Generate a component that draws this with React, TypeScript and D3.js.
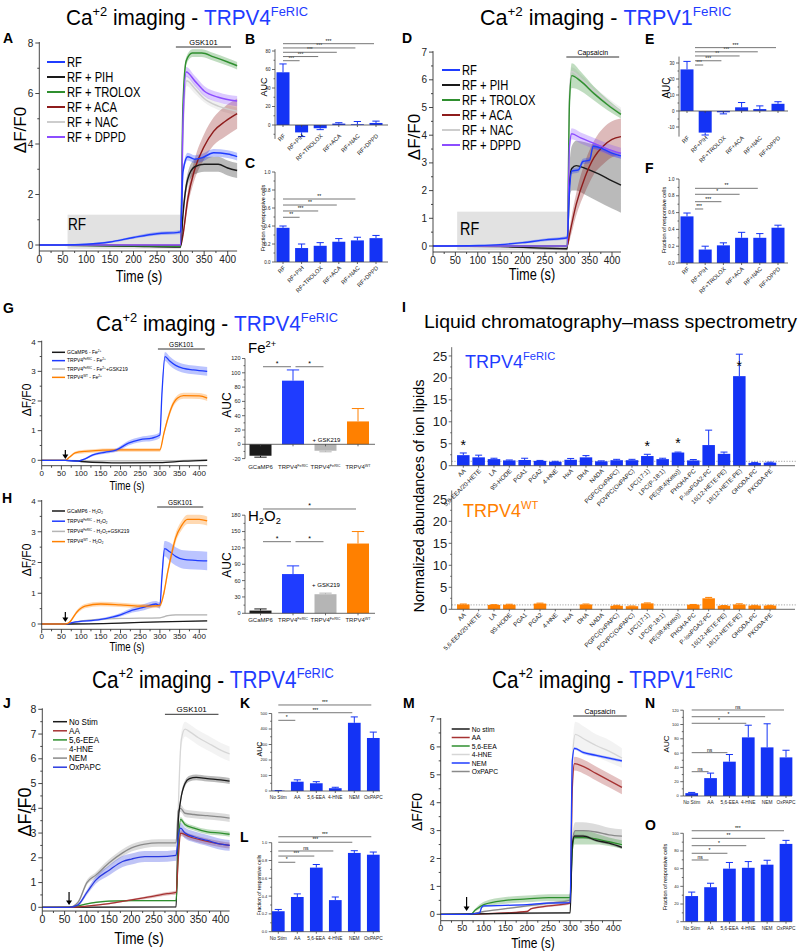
import * as d3 from 'd3';

// ── fonts & colours ─────────────────────────────────────────────────────────
const FONT = "'Liberation Sans',Arial,sans-serif";
const SANS = "'Liberation Sans',Arial,sans-serif";
const NARROW = 0.8; // the original uses a condensed Helvetica

const BLUE = '#1f3cff';
const BAR = '#1433f5';
const GREEN = '#2f8f2f';
const DKRED = '#8e1c1c';
const RED = '#a63232';
const LGRAY = '#cdcdcd';
const GRAY = '#8a8a8a';
const PURPLE = '#8c4dff';
const ORANGE = '#ff8000';
const BLACK = '#1a1a1a';

type Pt = [number, number, number]; // time (s), mean ΔF/F0, sem

// ── A: TRPV4 FeRIC, RF + inhibitors ─────────────────────────────────────────
const A_RF: Pt[] = [[0, 0, 0.02], [50, 0, 0.02], [100, 0.03, 0.03], [150, 0.12, 0.04], [200, 0.3, 0.05], [250, 0.45, 0.06], [295, 0.5, 0.07], [300, 0.52, 0.08], [305, 2.9, 0.15], [315, 3.5, 0.15], [330, 3.4, 0.15], [345, 3.45, 0.15], [370, 3.65, 0.15], [400, 3.6, 0.15], [420, 3.5, 0.15]];
const A_PIH: Pt[] = [[0, 0, 0.01], [100, -0.02, 0.01], [200, -0.05, 0.02], [300, -0.08, 0.02], [305, 1.2, 0.2], [315, 2.6, 0.25], [330, 3.1, 0.3], [350, 3.2, 0.3], [380, 3.2, 0.3], [400, 3.05, 0.3], [420, 2.95, 0.3]];
const A_TROLOX: Pt[] = [[0, 0, 0.01], [300, -0.05, 0.02], [305, 5.5, 0.15], [312, 7.3, 0.15], [325, 7.6, 0.15], [345, 7.6, 0.15], [370, 7.45, 0.15], [400, 7.25, 0.15], [420, 7.1, 0.15]];
const A_ACA: Pt[] = [[0, 0, 0.01], [300, -0.02, 0.02], [305, 0.4, 0.1], [315, 1.8, 0.3], [330, 3.0, 0.4], [350, 3.9, 0.5], [370, 4.5, 0.55], [395, 4.9, 0.6], [420, 5.2, 0.6]];
const A_NAC: Pt[] = [[0, 0, 0.01], [300, 0, 0.02], [305, 4.5, 0.15], [313, 6.5, 0.2], [330, 6.2, 0.2], [350, 5.8, 0.15], [380, 5.5, 0.15], [420, 5.3, 0.15]];
const A_DPPD: Pt[] = [[0, 0, 0.01], [300, 0, 0.02], [305, 4.8, 0.2], [312, 6.85, 0.2], [330, 6.5, 0.2], [350, 6.1, 0.2], [380, 5.85, 0.2], [420, 5.7, 0.2]];

// ── D: TRPV1 FeRIC ─────────────────────────────────────────────────────────
const D_RF: Pt[] = [[0, 0, 0.02], [100, 0.02, 0.02], [150, 0.05, 0.03], [200, 0.12, 0.04], [250, 0.22, 0.05], [300, 0.3, 0.06], [305, 2.0, 0.1], [310, 2.7, 0.1], [325, 2.75, 0.1], [335, 3.05, 0.1], [350, 3.1, 0.1], [358, 3.6, 0.1], [380, 3.5, 0.1], [400, 3.35, 0.1], [420, 3.25, 0.1]];
const D_PIH: Pt[] = [[0, 0, 0.01], [150, -0.02, 0.02], [300, -0.1, 0.05], [305, 2.3, 0.6], [310, 2.8, 0.8], [320, 2.9, 0.9], [340, 2.8, 0.95], [370, 2.6, 1.0], [400, 2.35, 1.0], [420, 2.2, 1.0]];
const D_TROLOX: Pt[] = [[0, 0, 0.01], [300, 0, 0.02], [305, 5.2, 0.3], [310, 6.15, 0.45], [330, 5.95, 0.35], [360, 5.5, 0.25], [390, 5.1, 0.2], [420, 4.75, 0.15]];
const D_ACA: Pt[] = [[0, 0, 0.01], [300, 0, 0.02], [305, 0.4, 0.2], [320, 1.5, 0.4], [340, 2.5, 0.55], [360, 3.2, 0.6], [380, 3.6, 0.65], [400, 3.85, 0.65], [420, 3.95, 0.65]];
const D_NAC: Pt[] = [[0, 0, 0.01], [300, 0, 0.02], [305, 5.5, 0.15], [310, 6.3, 0.15], [330, 6.05, 0.15], [360, 5.6, 0.15], [390, 5.2, 0.15], [420, 4.85, 0.15]];
const D_DPPD: Pt[] = [[0, 0, 0.01], [300, 0, 0.02], [305, 3.6, 0.2], [310, 4.05, 0.2], [330, 3.9, 0.2], [360, 3.7, 0.2], [390, 3.5, 0.2], [420, 3.35, 0.2]];

const rfNames = ['RF', 'RF + PIH', 'RF + TROLOX', 'RF + ACA', 'RF + NAC', 'RF + DPPD'];
const rfCats = ['RF', 'RF+PIH', 'RF+TROLOX', 'RF+ACA', 'RF+NAC', 'RF+DPPD'];

// ── B/C/E/F bars ───────────────────────────────────────────────────────────
const B_auc = [57, -8, -3.5, 1.5, 0.8, 2.2];
const B_err = [9, 4.5, 1.5, 1, 3, 2];
const C_frac = [0.38, 0.155, 0.18, 0.225, 0.24, 0.265];
const C_err = [0.02, 0.045, 0.035, 0.035, 0.035, 0.03];
const E_auc = [26, -13.5, -0.8, 2.3, 1.2, 4.5];
const E_err = [5, 1.5, 1, 3, 2, 1.3];
const F_frac = [0.555, 0.16, 0.21, 0.3, 0.3, 0.42];
const F_err = [0.04, 0.04, 0.03, 0.065, 0.05, 0.03];
// [from, to, label, bracket level]
const B_sig: [number, number, string, number][] = [[0, 1, '***', 69.5], [0, 2, '***', 74], [0, 3, '***', 78.6], [0, 4, '***', 83.3], [0, 5, '***', 87.9]];
const C_sig: [number, number, string, number][] = [[0, 1, '**', 0.497], [0, 2, '***', 0.567], [0, 3, '**', 0.633], [0, 4, '**', 0.7]];
const E_sig: [number, number, string, number][] = [[0, 1, '***', 28.75], [0, 2, '***', 31.4], [0, 3, '**', 34.4], [0, 4, '***', 37], [0, 5, '***', 39.6]];
const F_sig: [number, number, string, number][] = [[0, 1, '***', 0.643], [0, 2, '***', 0.73], [0, 3, '*', 0.818], [0, 4, '**', 0.889]];

// ── G/H: Fe2+ and H2O2 ─────────────────────────────────────────────────────
const G_GCaMP: Pt[] = [[0, 0, 0.005], [60, 0, 0.01], [100, -0.04, 0.01], [200, -0.09, 0.01], [300, -0.08, 0.01], [360, -0.03, 0.01], [420, 0, 0.01]];
const G_FeRIC: Pt[] = [[0, 0, 0.01], [60, 0, 0.01], [90, -0.03, 0.02], [110, 0.05, 0.03], [130, 0.18, 0.04], [160, 0.27, 0.05], [190, 0.35, 0.06], [220, 0.58, 0.08], [250, 0.7, 0.09], [280, 0.75, 0.1], [300, 0.85, 0.1], [305, 2.2, 0.12], [313, 3.5, 0.15], [325, 3.35, 0.15], [340, 3.2, 0.15], [360, 3.1, 0.15], [385, 3.05, 0.15], [420, 3.0, 0.15]];
const G_GSK: Pt[] = [[0, 0, 0.005], [60, 0, 0.01], [150, -0.02, 0.01], [300, -0.02, 0.01], [420, 0.02, 0.01]];
const G_WT: Pt[] = [[0, 0, 0.01], [60, 0, 0.01], [70, 0.1, 0.03], [85, 0.25, 0.05], [110, 0.3, 0.06], [200, 0.35, 0.06], [300, 0.35, 0.06], [310, 0.9, 0.08], [320, 1.4, 0.1], [330, 1.8, 0.1], [345, 2.1, 0.1], [360, 2.18, 0.1], [400, 2.17, 0.1], [420, 2.1, 0.1]];
const H_GCaMP: Pt[] = [[0, 0, 0.005], [60, 0, 0.01], [200, 0.03, 0.01], [300, 0.07, 0.01], [420, 0.1, 0.01]];
const H_FeRIC: Pt[] = [[0, 0, 0.01], [60, 0, 0.01], [80, 0.05, 0.02], [150, 0.15, 0.04], [200, 0.3, 0.06], [230, 0.45, 0.08], [260, 0.55, 0.1], [290, 0.65, 0.1], [300, 0.6, 0.1], [305, 1.5, 0.2], [312, 2.45, 0.25], [325, 2.35, 0.3], [340, 2.2, 0.3], [360, 2.1, 0.3], [390, 2.07, 0.3], [420, 2.05, 0.3]];
const H_GSK: Pt[] = [[0, 0, 0.005], [60, 0, 0.01], [100, 0.1, 0.01], [200, 0.18, 0.01], [300, 0.2, 0.01], [320, 0.27, 0.02], [340, 0.3, 0.02], [420, 0.3, 0.02]];
const H_WT: Pt[] = [[0, 0, 0.01], [60, 0, 0.01], [70, 0.05, 0.03], [90, 0.4, 0.06], [110, 0.58, 0.07], [150, 0.65, 0.07], [200, 0.62, 0.07], [250, 0.58, 0.07], [300, 0.6, 0.07], [310, 1.0, 0.1], [320, 1.7, 0.12], [330, 2.3, 0.15], [340, 2.8, 0.15], [355, 3.2, 0.15], [370, 3.4, 0.15], [400, 3.4, 0.15], [420, 3.35, 0.15]];

const G_names = ['GCaMP6 - Fe^{2+}', 'TRPV4^{FeRIC} - Fe^{2+}', 'TRPV4^{FeRIC} - Fe^{2+}+GSK219', 'TRPV4^{WT} - Fe^{2+}'];
const H_names = ['GCaMP6 - H_{2}O_{2}', 'TRPV4^{FeRIC} - H_{2}O_{2}', 'TRPV4^{FeRIC} - H_{2}O_{2}+GSK219', 'TRPV4^{WT} - H_{2}O_{2}'];
const ghCats = ['GCaMP6', 'TRPV4^{FeRIC}', 'TRPV4^{FeRIC}', 'TRPV4^{WT}'];
const G_auc = [-16, 89, -9, 32];
const G_err = [2, 15, 1.5, 18];
const H_auc = [5, 72, 35, 128];
const H_err = [3, 15, 2, 22];
const G_sig: [number, number, string, number][] = [[0, 1, '*', 108.5], [1, 2, '*', 108.5]];
const H_sig: [number, number, string, number][] = [[0, 1, '*', 131.4], [1, 2, '*', 131.4], [0, 3, '*', 191.4]];

// ── I: LC-MS lipids ────────────────────────────────────────────────────────
const lipids = ['AA', '5,6-EEA/20-HETE', 'LA', '9S-HODE', 'PGA1', 'PGA2', '4-HNE', 'HxA', 'DHA', 'NADA', 'PGPC(OxPAPC)', 'POVPC(OxPAPC)', 'LPC(17:1)', 'LPC(P-18:1)', 'PE(38:4(Keto))', 'PHOHA-PC', 'P-IsoPGA2-PC', '16(12-HETE-PE)', '18(12-HETE-PE)', 'OHODA-PC', 'PKODA-PE'];
const I_feric = [2.4, 1.9, 1.5, 1.2, 1.3, 1.1, 0.9, 1.35, 1.9, 1.0, 1.25, 1.25, 2.2, 1.5, 3.0, 1.2, 4.7, 2.7, 20.4, 0.65, 0.7];
const I_fericErr = [0.5, 0.5, 0.2, 0.1, 0.4, 0.1, 0.1, 0.3, 0.4, 0.1, 0.2, 0.2, 0.4, 0.2, 0.1, 0.2, 3.4, 0.4, 5.0, 0.1, 0.1];
const I_wt = [1.1, null, 1.0, 1.05, null, 1.3, null, null, 1.1, null, 0.8, 0.7, 1.35, null, null, 1.05, 2.5, 0.8, 1.1, 0.85, 0.85];
const I_wtErr = [0.1, 0, 0.05, 0.1, 0, 0.1, 0, 0, 0.1, 0, 0.1, 0.05, 0.1, 0, 0, 0.05, 0.2, 0.05, 0.15, 0.05, 0.05];
const I_stars = [0, 12, 14, 18];

// ── J–O: lipid stimuli ─────────────────────────────────────────────────────
const J_NoStim: Pt[] = [[0, 0, 0.01], [300, 0.02, 0.02], [305, 3.5, 0.1], [310, 4.3, 0.12], [320, 5.0, 0.12], [330, 5.2, 0.12], [345, 5.25, 0.12], [370, 5.2, 0.12], [400, 5.15, 0.12], [420, 5.1, 0.12]];
const J_AA: Pt[] = [[0, 0, 0.01], [60, 0, 0.01], [100, 0.05, 0.02], [150, 0.15, 0.03], [200, 0.3, 0.04], [250, 0.45, 0.06], [280, 0.55, 0.07], [300, 0.6, 0.08], [305, 2.0, 0.1], [310, 3.0, 0.12], [330, 2.85, 0.12], [360, 2.7, 0.12], [400, 2.55, 0.12], [420, 2.5, 0.12]];
const J_EEA: Pt[] = [[0, 0, 0.01], [60, 0, 0.01], [90, 0.1, 0.02], [120, 0.2, 0.03], [150, 0.25, 0.03], [200, 0.27, 0.03], [300, 0.27, 0.03], [305, 2.5, 0.1], [310, 3.55, 0.1], [320, 3.35, 0.1], [340, 3.2, 0.1], [370, 3.05, 0.1], [400, 3.0, 0.1], [420, 2.95, 0.1]];
const J_HNE: Pt[] = [[0, 0, 0.01], [300, 0.03, 0.02], [305, 4.0, 0.2], [312, 6.8, 0.3], [320, 7.2, 0.3], [330, 7.1, 0.3], [350, 6.85, 0.3], [380, 6.55, 0.3], [400, 6.35, 0.3], [420, 6.2, 0.3]];
const J_NEM: Pt[] = [[0, 0, 0.01], [60, 0, 0.01], [80, 0.2, 0.05], [100, 1.0, 0.1], [120, 1.3, 0.12], [150, 1.8, 0.14], [180, 2.2, 0.15], [200, 2.4, 0.15], [230, 2.55, 0.15], [260, 2.6, 0.15], [300, 2.6, 0.15], [305, 3.9, 0.15], [310, 4.0, 0.15], [320, 3.8, 0.15], [340, 3.75, 0.15], [370, 3.7, 0.15], [400, 3.65, 0.15], [420, 3.6, 0.15]];
const J_OxPAPC: Pt[] = [[0, 0, 0.01], [60, 0, 0.01], [80, 0.1, 0.05], [100, 0.6, 0.1], [120, 1.1, 0.15], [150, 1.5, 0.2], [180, 1.85, 0.22], [200, 1.95, 0.22], [230, 2.05, 0.22], [260, 2.05, 0.22], [300, 2.1, 0.22], [305, 2.9, 0.22], [310, 3.2, 0.22], [320, 3.0, 0.22], [340, 2.85, 0.22], [370, 2.7, 0.22], [400, 2.55, 0.22], [420, 2.5, 0.22]];

const M_NoStim: Pt[] = [[0, 0, 0.01], [295, 0.05, 0.02], [300, 0.05, 0.02], [305, 2.5, 0.05], [310, 2.8, 0.05], [330, 2.8, 0.05], [360, 2.65, 0.05], [390, 2.55, 0.05], [420, 2.4, 0.05]];
const M_AA: Pt[] = [[0, 0, 0.01], [60, 0, 0.01], [150, 0.05, 0.02], [200, 0.1, 0.03], [210, 0.2, 0.03], [250, 0.3, 0.04], [300, 0.4, 0.05], [305, 4.5, 0.2], [310, 5.4, 0.25], [330, 5.3, 0.25], [360, 5.05, 0.25], [390, 4.8, 0.25], [420, 4.55, 0.25]];
const M_EEA: Pt[] = [[0, 0, 0.01], [70, 0, 0.01], [80, 0.15, 0.05], [100, 0.35, 0.1], [150, 0.5, 0.12], [200, 0.55, 0.12], [250, 0.6, 0.12], [300, 0.6, 0.12], [305, 2.3, 0.2], [310, 2.75, 0.25], [330, 2.75, 0.25], [360, 2.7, 0.2], [390, 2.6, 0.15], [420, 2.5, 0.15]];
const M_HNE: Pt[] = [[0, 0, 0.01], [300, 0.05, 0.02], [305, 5.5, 0.4], [312, 6.45, 0.45], [330, 6.3, 0.45], [360, 6.05, 0.4], [390, 5.85, 0.4], [420, 5.6, 0.35]];
const M_NEM: Pt[] = [[0, 0, 0.01], [60, 0, 0.01], [90, 0.05, 0.02], [95, 0.25, 0.02], [100, 0.3, 0.02], [150, 0.32, 0.02], [200, 0.35, 0.02], [250, 0.4, 0.03], [300, 0.42, 0.03], [305, 5.5, 0.05], [310, 5.95, 0.05], [330, 5.8, 0.05], [360, 5.7, 0.05], [390, 5.6, 0.05], [420, 5.5, 0.05]];
const M_OxPAPC: Pt[] = [[0, 0, 0.01], [60, 0, 0.01], [100, 0.1, 0.02], [150, 0.2, 0.03], [200, 0.3, 0.04], [250, 0.4, 0.05], [300, 0.5, 0.06], [305, 2.6, 0.25], [312, 3.0, 0.3], [330, 3.0, 0.3], [360, 2.95, 0.28], [390, 2.85, 0.25], [420, 2.8, 0.25]];

const J_names = ['No Stim', 'AA', '5,6-EEA', '4-HNE', 'NEM', 'OxPAPC'];
const M_names = ['No stim', 'AA', '5,6-EEA', '4-HNE', 'NEM', 'OxPAPC'];
const stimCats = ['No Stim', 'AA', '5,6-EEA', '4-HNE', 'NEM', 'OxPAPC'];
const K_auc = [2, 60, 50, 18, 440, 342];
const K_err = [1, 12, 10, 6, 38, 38];
const L_frac = [0.23, 0.39, 0.72, 0.355, 0.885, 0.865];
const L_err = [0.02, 0.035, 0.035, 0.035, 0.025, 0.03];
const N_auc = [4, 25, 48, 82, 68, 54];
const N_err = [1, 7, 10, 17, 33, 10];
const O_pct = [29, 39, 60, 61, 64.5, 88];
const O_err = [4.5, 4.5, 7, 7, 5, 4];
const K_sig: [number, number, string, number][] = [[0, 1, '*', 456], [0, 4, '***', 505], [0, 5, '***', 555]];
const L_sig: [number, number, string, number][] = [[0, 1, '*', 0.78], [0, 2, '***', 0.85], [0, 3, 'ns', 0.907], [0, 4, '***', 1.005], [0, 5, '***', 1.067]];
const N_sig: [number, number, string, number][] = [[0, 1, 'ns', 34], [0, 2, 'ns', 60.6], [0, 3, '*', 101.7], [0, 4, '*', 110.9], [0, 5, 'ns', 120.3]];
const O_sig: [number, number, string, number][] = [[0, 1, 'ns', 69.8], [0, 2, '*', 77.4], [0, 3, '*', 86], [0, 4, '**', 94.3], [0, 5, '***', 102.9]];

// ── rich text: "TRPV4^{FeRIC}", "H_{2}O_{2}" ───────────────────────────────
function Rich({ s, fs }: { s: string; fs: number }) {
  const parts = s.split(/(\^\{[^}]*\}|_\{[^}]*\})/).filter(Boolean);
  let shift = 0;
  return (
    <>
      {parts.map((p, i) => {
        let dy = -shift;
        let size: number | undefined;
        let txt = p;
        if (p.startsWith('^{')) { txt = p.slice(2, -1); shift = -fs * 0.42; dy += shift; size = fs * 0.62; }
        else if (p.startsWith('_{')) { txt = p.slice(2, -1); shift = fs * 0.22; dy += shift; size = fs * 0.62; }
        else shift = 0;
        return <tspan key={i} dy={dy || undefined} fontSize={size}>{txt}</tspan>;
      })}
    </>
  );
}

// ── time-course panel ───────────────────────────────────────────────────────
interface TraceCfg {
  ox: number; sx: number; oy: number; sy: number; ymax: number; axisY: number; ystep: number;
  tfs: number; lw: number;
  yLab: [number, number, number]; xLab: [number, number, number];
  stim: { label: string; t0: number; t1: number; y: number; fs: number };
  series: Pt[][]; colors: string[]; names: string[]; order: number[];
  leg: { x: number; y: number; dy: number; fs: number; len: number; lw: number; k: number };
  box?: { t0: number; t1: number; v0: number; v1: number; lx: number; ly: number; fs: number };
  arrow?: [number, number];
}

function TracePanel(p: TraceCfg) {
  const x = d3.scaleLinear().domain([0, 420]).range([p.ox, p.ox + 420 * p.sx]);
  const y = d3.scaleLinear().domain([0, p.ymax]).range([p.oy, p.oy - p.ymax * p.sy]);
  const band = d3.area<Pt>().x(d => x(d[0])).y0(d => y(d[1] - d[2])).y1(d => y(d[1] + d[2])).curve(d3.curveMonotoneX);
  const line = d3.line<Pt>().x(d => x(d[0])).y(d => y(d[1])).curve(d3.curveMonotoneX);
  const yMaj = d3.range(0, p.ymax + 1e-6, p.ystep);
  const yMin = d3.range(p.ystep / 2, p.ymax, p.ystep);
  const xMaj = d3.range(0, 401, 50);
  const xMin = d3.range(25, 420, 50);
  const x0 = x(0);
  const ax = x(60);
  return (
    <g>
      {p.box && (
        <g>
          <rect x={x(p.box.t0)} y={y(p.box.v1)} width={x(p.box.t1) - x(p.box.t0)}
            height={Math.min(y(p.box.v0), p.axisY) - y(p.box.v1)} fill="#e2e2e2" />
          <text transform={`translate(${p.box.lx},${p.box.ly}) scale(${NARROW},1)`} fontSize={p.box.fs} fontFamily={FONT}>RF</text>
        </g>
      )}
      {p.order.map(i => <path key={'b' + i} d={band(p.series[i]) ?? ''} fill={p.colors[i]} fillOpacity={0.3} />)}
      {p.order.map(i => <path key={'l' + i} d={line(p.series[i]) ?? ''} fill="none" stroke={p.colors[i]} strokeWidth={p.lw} />)}
      <g stroke="#333" strokeWidth={0.9}>
        <line x1={x0} x2={x0} y1={y(p.ymax) - 1} y2={p.axisY} />
        <line x1={x0} x2={x(420)} y1={p.axisY} y2={p.axisY} />
        {yMaj.map(v => <line key={'ym' + v} x1={x0 - 4} x2={x0} y1={y(v)} y2={y(v)} />)}
        {yMin.map(v => <line key={'yn' + v} x1={x0 - 2} x2={x0} y1={y(v)} y2={y(v)} />)}
        {xMaj.map(t => <line key={'xm' + t} x1={x(t)} x2={x(t)} y1={p.axisY} y2={p.axisY + 4} />)}
        {xMin.map(t => <line key={'xn' + t} x1={x(t)} x2={x(t)} y1={p.axisY} y2={p.axisY + 2} />)}
      </g>
      <g fontSize={p.tfs} fontFamily={FONT} fill="#222">
        {yMaj.map(v => <text key={'yt' + v} x={x0 - 6} y={y(v)} dy="0.35em" textAnchor="end">{v}</text>)}
        {xMaj.map(t => <text key={'xt' + t} x={x(t)} y={p.axisY + 4 + p.tfs * 0.75} textAnchor="middle">{t}</text>)}
      </g>
      <text transform={`translate(${p.yLab[0]},${p.yLab[1]}) rotate(-90)`} textAnchor="middle" dominantBaseline="central"
        fontSize={p.yLab[2]} fontFamily={FONT}>ΔF/F0</text>
      <text transform={`translate(${p.xLab[0]},${p.xLab[1]}) scale(${NARROW},1)`} textAnchor="middle" fontSize={p.xLab[2]} fontFamily={FONT}>Time (s)</text>
      <line x1={x(p.stim.t0)} x2={x(p.stim.t1)} y1={p.stim.y} y2={p.stim.y} stroke="#333" strokeWidth={1} />
      <text x={(x(p.stim.t0) + x(p.stim.t1)) / 2} y={p.stim.y - 2.5} textAnchor="middle" fontSize={p.stim.fs} fontFamily={FONT}>{p.stim.label}</text>
      {p.names.map((n, i) => (
        <g key={'lg' + i}>
          <line x1={p.leg.x} x2={p.leg.x + p.leg.len} y1={p.leg.y + i * p.leg.dy} y2={p.leg.y + i * p.leg.dy}
            stroke={p.colors[i]} strokeWidth={p.leg.lw} />
          <text transform={`translate(${p.leg.x + p.leg.len + 2},${p.leg.y + i * p.leg.dy + p.leg.fs * 0.35}) scale(${p.leg.k},1)`}
            fontSize={p.leg.fs} fontFamily={FONT}>
            <Rich s={n} fs={p.leg.fs} />
          </text>
        </g>
      ))}
      {p.arrow && (
        <g>
          <line x1={ax} x2={ax} y1={p.arrow[0]} y2={p.arrow[1] - 3} stroke="#000" strokeWidth={1.2} />
          <polygon points={`${ax - 3},${p.arrow[1] - 4.5} ${ax + 3},${p.arrow[1] - 4.5} ${ax},${p.arrow[1]}`} fill="#000" />
        </g>
      )}
    </g>
  );
}

// ── bar panel ───────────────────────────────────────────────────────────────
interface BarCfg {
  ax: number; oy: number; sy: number; ylo: number; yhi: number;
  ticks: number[]; minor?: number[]; fmt?: (v: number) => string; tfs: number;
  c0: number; c1: number; bw: number; xEnd: number;
  vals: (number | null)[]; errs: number[]; colors: string | string[];
  cats: string[]; rot: boolean; labY: number; cfs: number;
  sig?: [number, number, string, number][]; sfs?: number; s0?: number;
  yLab?: [string, number, number, number];
}

function BarPanel(p: BarCfg) {
  const y = d3.scaleLinear().domain([0, 1]).range([p.oy, p.oy - p.sy]);
  const x = d3.scalePoint<number>().domain(d3.range(p.vals.length)).range([p.c0, p.c1]);
  const col = (i: number) => (typeof p.colors === 'string' ? p.colors : p.colors[i]);
  const fmt = p.fmt ?? ((v: number) => String(v));
  const cap = p.bw * 0.28;
  return (
    <g>
      {p.vals.map((v, i) => {
        if (v === null) return null;
        const cx = x(i) ?? 0;
        const e = v >= 0 ? v + p.errs[i] : v - p.errs[i];
        return (
          <g key={'bar' + i}>
            {p.errs[i] > 0 && (
              <g stroke={col(i)} strokeWidth={1}>
                <line x1={cx} x2={cx} y1={y(v)} y2={y(e)} />
                <line x1={cx - cap} x2={cx + cap} y1={y(e)} y2={y(e)} />
              </g>
            )}
            <rect x={cx - p.bw / 2} y={Math.min(y(0), y(v))} width={p.bw} height={Math.abs(y(v) - y(0))} fill={col(i)} />
          </g>
        );
      })}
      <g stroke="#444" strokeWidth={0.8}>
        <line x1={p.ax} x2={p.ax} y1={y(p.yhi)} y2={y(p.ylo)} />
        <line x1={p.ax} x2={p.xEnd} y1={y(0)} y2={y(0)} />
        {p.ticks.map(v => <line key={'t' + v} x1={p.ax - 3} x2={p.ax} y1={y(v)} y2={y(v)} />)}
        {(p.minor ?? []).map(v => <line key={'m' + v} x1={p.ax - 1.5} x2={p.ax} y1={y(v)} y2={y(v)} />)}
        {p.vals.map((_, i) => <line key={'c' + i} x1={x(i)} x2={x(i)} y1={y(0)} y2={y(0) + 2} />)}
      </g>
      <g fontSize={p.tfs} fontFamily={FONT} fill="#222">
        {p.ticks.map(v => <text key={'tl' + v} x={p.ax - 4.5} y={y(v)} dy="0.35em" textAnchor="end">{fmt(v)}</text>)}
      </g>
      <g fontSize={p.cfs} fontFamily={FONT} fill="#222">
        {p.cats.map((c, i) => p.rot ? (
          <text key={'cl' + i} transform={`translate(${(x(i) ?? 0) + 1.5},${p.labY}) rotate(-45)`} textAnchor="end" dy="0.3em">
            <Rich s={c} fs={p.cfs} />
          </text>
        ) : (
          <text key={'cl' + i} x={x(i)} y={p.labY} textAnchor="middle" dy="0.35em"><Rich s={c} fs={p.cfs} /></text>
        ))}
      </g>
      {(p.sig ?? []).map(([a, b, lab, lv], i) => {
        const x1 = (x(a) ?? 0) + (p.s0 ?? 2);
        const x2 = (x(b) ?? 0) - 2;
        return (
          <g key={'sg' + i}>
            <line x1={x1} x2={x2} y1={y(lv)} y2={y(lv)} stroke="#666" strokeWidth={0.9} />
            <text x={(x1 + x2) / 2} y={y(lv) - 1} textAnchor="middle" fontSize={p.sfs ?? 5} fontFamily={SANS}>{lab}</text>
          </g>
        );
      })}
      {p.yLab && (
        <text transform={`translate(${p.yLab[1]},${p.yLab[2]}) rotate(-90)`} textAnchor="middle" dominantBaseline="central"
          fontSize={p.yLab[3]} fontFamily={FONT}>{p.yLab[0]}</text>
      )}
    </g>
  );
}

// title rendered at natural width and squeezed horizontally to the condensed look
function Title({ x, y, chan, fs, k }: { x: number; y: number; chan: string; fs: number; k: number }) {
  return (
    <text transform={`translate(${x},${y}) scale(${k},1)`} fontSize={fs} fontFamily={FONT}>
      <Rich s="Ca^{+2} imaging - " fs={fs} />
      <tspan fill={BLUE}><Rich s={`${chan}^{FeRIC}`} fs={fs} /></tspan>
    </text>
  );
}

const letters: [string, number, number][] = [
  ['A', 3, 43], ['B', 245, 44], ['C', 245, 168], ['D', 402, 43], ['E', 645, 44], ['F', 645, 173],
  ['G', 3, 313], ['H', 2, 503], ['I', 402, 312], ['J', 3, 708], ['K', 240, 708], ['L', 240, 842],
  ['M', 403, 708], ['N', 645, 708], ['O', 645, 830],
];

const f1 = (v: number) => v.toFixed(1);

export default function App() {
  const rfColors = [BLUE, BLACK, GREEN, DKRED, LGRAY, PURPLE];
  const ghColors = [BLACK, BLUE, '#b5b5b5', ORANGE];
  const jColors = [BLACK, RED, GREEN, '#d6d6d6', GRAY, '#2a3ae0'];
  const mColors = [BLACK, RED, GREEN, '#d6d6d6', BLUE, GRAY];
  const iTop = { ax: 451.7, ylo: 0, yhi: 27, ticks: [0, 5, 10, 15, 20, 25], minor: [2.5, 7.5, 12.5, 17.5, 22.5], tfs: 13, c0: 463.3, c1: 770, bw: 12.5, xEnd: 795, cats: lipids, rot: true, cfs: 6.2 };
  const yTop = d3.scaleLinear().domain([0, 1]).range([465.7, 465.7 - 4.39]);
  const xTop = d3.scalePoint<number>().domain(d3.range(lipids.length)).range([463.3, 770]);
  const yBot = d3.scaleLinear().domain([0, 1]).range([609.3, 609.3 - 4.4]);
  return (
    <svg width={800} height={952} style={{ position: 'absolute', left: 0, top: 0 }} fontFamily={SANS}>
      <rect width={800} height={952} fill="#fff" />

      <Title x={66} y={25} chan="TRPV4" fs={22} k={0.943} />
      <Title x={480} y={25} chan="TRPV1" fs={22} k={0.98} />
      <Title x={96} y={331} chan="TRPV4" fs={22} k={0.943} />
      <Title x={92} y={688} chan="TRPV4" fs={24} k={0.864} />
      <Title x={492} y={688} chan="TRPV1" fs={24} k={0.86} />
      <text x={424} y={328} fontSize={19} fontFamily={FONT} textLength={373} lengthAdjust="spacingAndGlyphs">Liquid chromatography–mass spectrometry</text>
      {letters.map(([l, lx, ly]) => <text key={l} x={lx} y={ly} fontSize={14} fontWeight="bold" fontFamily={SANS}>{l}</text>)}

      {/* A */}
      <TracePanel ox={39.3} sx={0.471} oy={245} sy={25.25} ymax={8} axisY={251} ystep={2} tfs={10} lw={1.5}
        yLab={[20, 130, 17]} xLab={[139, 282, 16]} stim={{ label: 'GSK101', t0: 290, t1: 407, y: 47, fs: 7.5 }}
        series={[A_RF, A_PIH, A_TROLOX, A_ACA, A_NAC, A_DPPD]} colors={rfColors} names={rfNames} order={[4, 3, 1, 2, 5, 0]}
        leg={{ x: 47, y: 62, dy: 15, fs: 14, len: 18, lw: 2, k: NARROW }}
        box={{ t0: 60, t1: 300, v0: -0.15, v1: 1.2, lx: 68, ly: 230, fs: 17 }} />
      {/* B */}
      <BarPanel ax={275} oy={125} sy={0.925} ylo={-15} yhi={82} ticks={[0, 20, 40, 60, 80]} minor={[-10, 10, 30, 50, 70]} tfs={4.5}
        c0={283} c1={376} bw={13} xEnd={388} vals={B_auc} errs={B_err} colors={BAR} cats={rfCats} rot labY={135} cfs={5.8}
        sig={B_sig} s0={0} sfs={5} yLab={['AUC', 264, 87, 9]} />
      {/* C */}
      <BarPanel ax={275} oy={262} sy={90} ylo={0} yhi={1} ticks={[0, 0.2, 0.4, 0.6, 0.8, 1]} minor={[0.1, 0.3, 0.5, 0.7, 0.9]} fmt={f1} tfs={4.5}
        c0={283} c1={376} bw={13} xEnd={388} vals={C_frac} errs={C_err} colors={BAR} cats={rfCats} rot labY={267} cfs={5.8}
        sig={C_sig} s0={0} sfs={5} yLab={['Fraction of responsive cells', 263, 218, 5.5]} />

      {/* D */}
      <TracePanel ox={433} sx={0.4475} oy={246} sy={27.7} ymax={7} axisY={252} ystep={1} tfs={10} lw={1.4}
        yLab={[414, 137, 17]} xLab={[532, 280, 16]} stim={{ label: 'Capsaicin', t0: 298, t1: 416, y: 57, fs: 7 }}
        series={[D_RF, D_PIH, D_TROLOX, D_ACA, D_NAC, D_DPPD]} colors={rfColors} names={rfNames} order={[1, 3, 4, 2, 5, 0]}
        leg={{ x: 442, y: 70, dy: 15, fs: 14, len: 18, lw: 2, k: NARROW }}
        box={{ t0: 54, t1: 300, v0: -0.15, v1: 1.24, lx: 460, ly: 235, fs: 18 }} />
      {/* E */}
      <BarPanel ax={679} oy={111} sy={1.6} ylo={-16} yhi={34} ticks={[-10, 0, 10, 20, 30]} minor={[-5, 5, 15, 25]} tfs={4.5}
        c0={687} c1={778} bw={13} xEnd={788} vals={E_auc} errs={E_err} colors={BAR} cats={rfCats} rot labY={137} cfs={5.8}
        sig={E_sig} s0={8} sfs={5} yLab={['AUC', 666, 88, 10]} />
      {/* F */}
      <BarPanel ax={679} oy={263} sy={84} ylo={0} yhi={1} ticks={[0, 0.2, 0.4, 0.6, 0.8, 1]} minor={[0.1, 0.3, 0.5, 0.7, 0.9]} fmt={f1} tfs={4.5}
        c0={687} c1={778} bw={13} xEnd={788} vals={F_frac} errs={F_err} colors={BAR} cats={rfCats} rot labY={268} cfs={5.8}
        sig={F_sig} s0={8} sfs={5} yLab={['Fraction of responsive cells', 664, 220, 5.5]} />

      {/* G */}
      <TracePanel ox={41.7} sx={0.394} oy={460.3} sy={29.65} ymax={4} axisY={465.7} ystep={1} tfs={8} lw={1.3}
        yLab={[27, 400, 12]} xLab={[127, 490, 12]} stim={{ label: 'GSK101', t0: 295, t1: 414, y: 349, fs: 6.5 }}
        series={[G_GCaMP, G_FeRIC, G_GSK, G_WT]} colors={ghColors} names={G_names} order={[2, 0, 3, 1]}
        leg={{ x: 52, y: 352.3, dy: 8.35, fs: 5, len: 13, lw: 1.5, k: 1 }} arrow={[450, 459]} />
      <text x={248} y={353} fontSize={15} fontFamily={FONT}><Rich s="Fe^{2+}" fs={15} /></text>
      <BarPanel ax={245} oy={444.3} sy={0.715} ylo={-20} yhi={120} ticks={d3.range(-20, 121, 20)} minor={d3.range(-10, 120, 20)} tfs={5.5}
        c0={260.5} c1={358} bw={22} xEnd={375} vals={G_auc} errs={G_err} colors={ghColors} cats={ghCats} rot={false} labY={467} cfs={6}
        sig={G_sig} s0={2.5} sfs={7} yLab={['AUC', 227, 405, 12]} />
      <text x={326.5} y={442} textAnchor="middle" fontSize={6} fontFamily={FONT}>+ GSK219</text>

      {/* H */}
      <TracePanel ox={41.7} sx={0.394} oy={624} sy={30.75} ymax={4} axisY={629.3} ystep={1} tfs={8} lw={1.3}
        yLab={[27, 560, 12]} xLab={[127, 651, 12]} stim={{ label: 'GSK101', t0: 293, t1: 410, y: 507, fs: 6.5 }}
        series={[H_GCaMP, H_FeRIC, H_GSK, H_WT]} colors={ghColors} names={H_names} order={[2, 0, 1, 3]}
        leg={{ x: 52, y: 511, dy: 10.2, fs: 5, len: 13, lw: 1.5, k: 1 }} arrow={[612, 622]} />
      <text x={248} y={521} fontSize={15} fontFamily={FONT}><Rich s="H_{2}O_{2}" fs={15} /></text>
      <BarPanel ax={245} oy={613.3} sy={0.545} ylo={0} yhi={180} ticks={d3.range(0, 181, 30)} minor={d3.range(15, 180, 30)} tfs={5.5}
        c0={260.5} c1={358} bw={22} xEnd={375} vals={H_auc} errs={H_err} colors={ghColors} cats={ghCats} rot={false} labY={620} cfs={6}
        sig={H_sig} s0={2.5} sfs={7} yLab={['AUC', 227, 565, 12]} />
      <text x={326} y={587} textAnchor="middle" fontSize={6} fontFamily={FONT}>+ GSK219</text>

      {/* I */}
      <text transform="translate(419,496) rotate(-90)" textAnchor="middle" dominantBaseline="central" fontSize={14.5} fontFamily={FONT}>
        Normalized abundances of ion lipids
      </text>
      <line x1={451.7} x2={797} y1={yTop(1)} y2={yTop(1)} stroke="#999" strokeWidth={0.9} strokeDasharray="1.2 1.5" />
      <BarPanel {...iTop} oy={465.7} sy={4.39} vals={I_feric} errs={I_fericErr} colors={BAR} labY={470} />
      {I_stars.map(i => (
        <text key={'st' + i} x={xTop(i)} y={yTop(I_feric[i]) - 4.8} textAnchor="middle" fontSize={14} fontFamily={SANS}>*</text>
      ))}
      <text x={465} y={368} fontSize={18} fontFamily={FONT} fill={BLUE}><Rich s="TRPV4^{FeRIC}" fs={18} /></text>
      <line x1={451.7} x2={797} y1={yBot(1)} y2={yBot(1)} stroke="#999" strokeWidth={0.9} strokeDasharray="1.2 1.5" />
      <BarPanel {...iTop} oy={609.3} sy={4.4} vals={I_wt} errs={I_wtErr} colors={ORANGE} labY={614} />
      <text x={463} y={517} fontSize={18} fontFamily={FONT} fill={ORANGE}><Rich s="TRPV4^{WT}" fs={18} /></text>

      {/* J */}
      <TracePanel ox={42.3} sx={0.446} oy={907.3} sy={24.75} ymax={8} axisY={911} ystep={1} tfs={10.5} lw={1.3}
        yLab={[25, 812, 18]} xLab={[139, 944, 17]} stim={{ label: 'GSK101', t0: 275, t1: 395, y: 714.3, fs: 8 }}
        series={[J_NoStim, J_AA, J_EEA, J_HNE, J_NEM, J_OxPAPC]} colors={jColors} names={J_names} order={[3, 4, 0, 2, 1, 5]}
        leg={{ x: 53, y: 721.7, dy: 9.1, fs: 9, len: 14, lw: 1.5, k: 0.9 }} arrow={[892, 905]} />
      {/* K */}
      <BarPanel ax={271.7} oy={791} sy={0.155} ylo={0} yhi={500} ticks={d3.range(0, 501, 100)} minor={d3.range(50, 500, 100)} tfs={4}
        c0={278.3} c1={373.3} bw={12.7} xEnd={380} vals={K_auc} errs={K_err} colors={BAR} cats={stimCats} rot={false} labY={797.5} cfs={4.8}
        sig={K_sig} s0={0} sfs={5} yLab={['AUC', 259, 749, 7]} />
      {/* L */}
      <BarPanel ax={271.7} oy={931.7} sy={89} ylo={0} yhi={1} ticks={[0, 0.2, 0.4, 0.6, 0.8, 1]} minor={[0.1, 0.3, 0.5, 0.7, 0.9]} fmt={f1} tfs={4}
        c0={278.3} c1={373.3} bw={12.7} xEnd={380} vals={L_frac} errs={L_err} colors={BAR} cats={stimCats} rot={false} labY={938} cfs={4.8}
        sig={L_sig} s0={0} sfs={5} yLab={['Fraction of responsive cells', 259, 885, 5]} />

      {/* M */}
      <TracePanel ox={440.7} sx={0.4315} oy={914.3} sy={27.9} ymax={7} axisY={920.7} ystep={1} tfs={9} lw={1.3}
        yLab={[417, 812, 14]} xLab={[533, 948, 15]} stim={{ label: 'Capsaicin', t0: 307, t1: 431, y: 716, fs: 7 }}
        series={[M_NoStim, M_AA, M_EEA, M_HNE, M_NEM, M_OxPAPC]} colors={mColors} names={M_names} order={[3, 1, 5, 2, 0, 4]}
        leg={{ x: 451.7, y: 729, dy: 8.5, fs: 7.5, len: 18, lw: 1.5, k: 0.9 }} arrow={[897, 911]} />
      {/* N */}
      <BarPanel ax={683.3} oy={796} sy={0.715} ylo={0} yhi={120} ticks={d3.range(0, 121, 20)} minor={d3.range(10, 120, 20)} tfs={4}
        c0={691.7} c1={786} bw={12.7} xEnd={792} vals={N_auc} errs={N_err} colors={BAR} cats={stimCats} rot={false} labY={802} cfs={4.8}
        sig={N_sig} s0={0} sfs={5} yLab={['AUC', 666, 744, 8]} />
      {/* O */}
      <BarPanel ax={683.3} oy={921.7} sy={0.884} ylo={0} yhi={100} ticks={d3.range(0, 101, 20)} minor={d3.range(10, 100, 20)} tfs={4}
        c0={691.7} c1={786} bw={12.7} xEnd={792} vals={O_pct} errs={O_err} colors={BAR} cats={stimCats} rot={false} labY={928} cfs={4.8}
        sig={O_sig} s0={0} sfs={5} yLab={['Fraction of responsive cells', 665, 877, 5.5]} />
    </svg>
  );
}
